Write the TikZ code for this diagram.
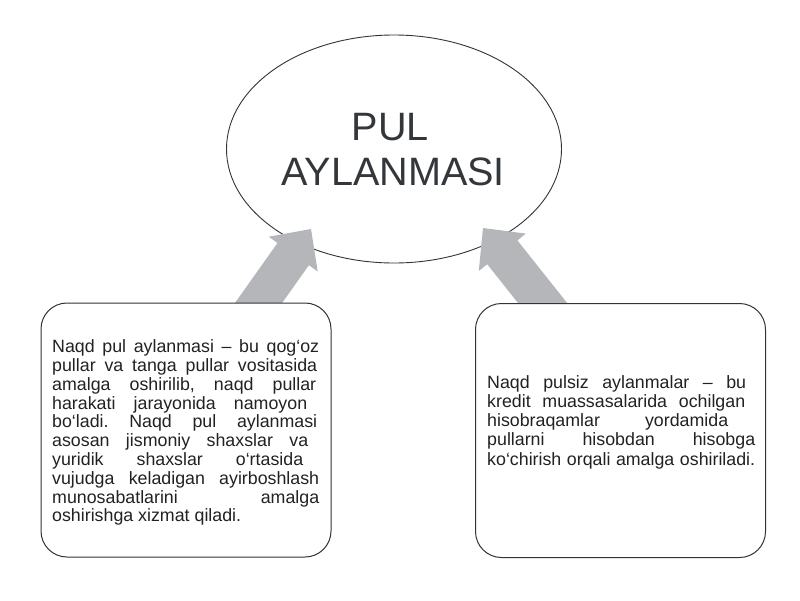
\documentclass[tikz,border=0pt]{standalone}
\usepackage{fontspec}
\setmainfont{Liberation Sans}
\usetikzlibrary{shapes.geometric}
\frenchspacing
\definecolor{linecol}{HTML}{333333}
\definecolor{txtcol}{HTML}{222222}
\definecolor{titlecol}{HTML}{33373B}
\definecolor{arrowgray}{HTML}{B4B6B9}
\tikzset{
  oval/.style={ellipse, draw=linecol, line width=0.9pt, minimum width=335pt, minimum height=228pt, inner sep=0pt},
  infobox/.style={draw=linecol, line width=1pt, fill=white, rounded corners=26pt, minimum width=290pt, minimum height=254pt, inner sep=0pt},
  titletext/.style={text=titlecol, font=\fontsize{39.6pt}{45pt}\selectfont, inner sep=0pt, anchor=base},
  bodytext/.style={text=txtcol, inner sep=0pt, anchor=base west},
  blockarrow/.style={fill=arrowgray, draw=none}
}
\newcommand{\jline}[2]{\makebox[#1pt][s]{#2}\\}
\begin{document}
\begin{tikzpicture}[x=1pt,y=-1pt]
\useasboundingbox (0,0) rectangle (800,600);
\fill[white] (0,0) rectangle (800,600);
% central ellipse
\node[oval] (center) at (394,149) {};
\node[titletext] (title1) at (390.5,140) {PUL};
\node[titletext] (title2) at (393,185) {AYLANMASI};
% block arrows (from boxes up to the ellipse)
\coordinate (tipL) at (311,229);
\coordinate (tipR) at (483,228);
\fill[blockarrow] (222.9,320) -- (277.5,243) -- (268.7,236.7) -- (tipL) -- (317.7,271.5) -- (308.9,265.2) -- (270,320) -- cycle;
\fill[blockarrow] (531.5,320) -- (487.2,264.2) -- (478.8,271) -- (tipR) -- (525.8,233.6) -- (517.4,240.4) -- (580.6,320) -- cycle;
% boxes
\node[infobox] (boxL) at (186,430) {};
\node[infobox] (boxR) at (620.5,430.5) {};
% texts
\node[bodytext] (txtL) at (52,352.7) {\parbox[t]{272pt}{\fontsize{17.8pt}{18.8pt}\selectfont\raggedright\frenchspacing
\jline{267}{Naqd pul aylanmasi – bu qog‘oz}
\jline{265}{pullar va tanga pullar vositasida}
\jline{264}{amalga oshirilib, naqd pullar}
\jline{255}{harakati jarayonida namoyon}
\jline{265}{bo‘ladi. Naqd pul aylanmasi}
\jline{256}{asosan jismoniy shaxslar va}
\jline{251}{yuridik shaxslar o‘rtasida}
\jline{267}{vujudga keladigan ayirboshlash}
\jline{267}{munosabatlarini amalga}
oshirishga xizmat qiladi.}};
\node[bodytext] (txtR) at (487,388.3) {\parbox[t]{272pt}{\fontsize{17.8pt}{19.2pt}\selectfont\raggedright\frenchspacing
\jline{259}{Naqd pulsiz aylanmalar – bu}
\jline{258}{kredit muassasalarida ochilgan}
\jline{241}{hisobraqamlar yordamida}
\jline{268}{pullarni hisobdan hisobga}
\makebox[268pt][s]{ko‘chirish orqali amalga oshiriladi.}}};
\end{tikzpicture}
\end{document}
